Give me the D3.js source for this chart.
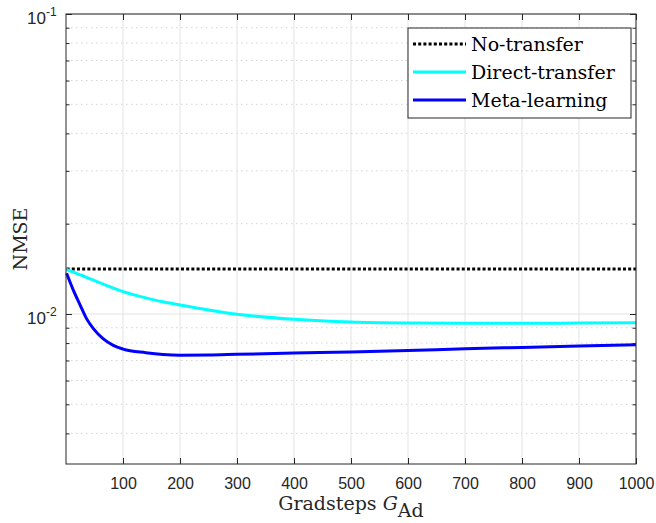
<!DOCTYPE html>
<html>
<head>
<meta charset="utf-8">
<script src="https://cdn.jsdelivr.net/npm/d3@7/dist/d3.min.js"></script>
<style>
    body { margin: 0; background: #fff; }
</style>
</head>
<body>
<div class="chart"></div>
<script>
// data
let steps = [1, 13, 25, 36, 48, 65, 83, 100, 140, 170, 200, 250, 300, 400, 500, 600, 700, 800, 900, 1000]
let directTransfer = [0.01409, 0.01378, 0.0135, 0.01325, 0.01296, 0.01258, 0.0122, 0.01187, 0.01132, 0.01098, 0.01072, 0.01031, 0.00998, 0.0096, 0.0094, 0.00933, 0.00931, 0.00931, 0.00933, 0.00935]
let metaLearning = [0.01367, 0.01199, 0.01069, 0.00965, 0.00894, 0.00828, 0.00786, 0.00764, 0.00743, 0.00733, 0.00729, 0.0073, 0.00734, 0.00741, 0.00747, 0.00755, 0.00766, 0.00774, 0.00782, 0.0079]
let noTransferSteps = [1, 1000]
let noTransfer = [0.01413, 0.01413]

let xTicks = [100, 200, 300, 400, 500, 600, 700, 800, 900, 1000]
let yMajor = [0.01, 0.1]
let yMajorLabels = ['-2', '-1']
let yMinor = [0.004, 0.005, 0.006, 0.007, 0.008, 0.009, 0.02, 0.03, 0.04, 0.05, 0.06, 0.07, 0.08, 0.09]
let legendNames = ['No-transfer', 'Direct-transfer', 'Meta-learning']

let margin = {
    left: 66,
    right: 20,
    top: 14,
    bottom: 59
}

let width = 656 - margin.left - margin.right;
let height = 523 - margin.top - margin.bottom;

let axisColor = '#262626';

let svg = d3.select('.chart')
    .append('svg')
    .attr('width', 656)
    .attr('height', 523)
    .style('background', '#fff');

let g = svg.append('g')
    .attr('transform', 'translate(' + margin.left + ', ' + margin.top + ')');

//scales
let x = d3.scaleLinear()
    .domain([0, 1000])
    .range([0, width])

let y = d3.scaleLog()
    .domain([Math.pow(10, -2.5), 0.1])
    .range([height, 0])

//grid
g.append('g')
    .selectAll('line')
    .data(yMinor)
    .join('line')
    .attr('x1', 0).attr('x2', width)
    .attr('y1', d => y(d)).attr('y2', d => y(d))
    .attr('stroke', '#d4d4d4')
    .attr('stroke-width', 1)
    .attr('stroke-dasharray', '1.5,3.5');

g.append('g')
    .selectAll('line')
    .data(xTicks)
    .join('line')
    .attr('x1', d => x(d)).attr('x2', d => x(d))
    .attr('y1', 0).attr('y2', height)
    .attr('stroke', '#e3e3e3')
    .attr('stroke-width', 1);

g.append('g')
    .selectAll('line')
    .data(yMajor)
    .join('line')
    .attr('x1', 0).attr('x2', width)
    .attr('y1', d => y(d)).attr('y2', d => y(d))
    .attr('stroke', '#e3e3e3')
    .attr('stroke-width', 1);

//lines
let line = d3.line()
    .x(item => x(item[0]))
    .y(item => y(item[1]))
    .curve(d3.curveMonotoneX)

g.append('path')
    .attr('fill', 'none')
    .attr('stroke', '#000')
    .attr('stroke-width', 3)
    .attr('stroke-dasharray', '3,2.2')
    .attr('d', line(d3.zip(noTransferSteps, noTransfer)));

g.append('path')
    .attr('fill', 'none')
    .attr('stroke', '#00ffff')
    .attr('stroke-width', 3)
    .attr('d', line(d3.zip(steps, directTransfer)));

g.append('path')
    .attr('fill', 'none')
    .attr('stroke', '#0000ff')
    .attr('stroke-width', 3)
    .attr('d', line(d3.zip(steps, metaLearning)));

//axes (ticks inside, box on)
let styleAxis = sel => {
    sel.select('.domain').remove();
    sel.selectAll('line').attr('stroke', axisColor);
    sel.selectAll('text')
        .attr('fill', axisColor)
        .style('font-family', '"Liberation Sans", Arial, sans-serif')
        .style('font-size', '16px');
}

let xAxis = d3.axisBottom(x).tickValues(xTicks).tickFormat(d3.format('d')).tickSizeInner(-6).tickSizeOuter(0).tickPadding(14);
g.append('g')
    .attr('transform', 'translate(0,' + height + ')')
    .call(xAxis)
    .call(styleAxis);

g.append('g')
    .call(d3.axisTop(x).tickValues(xTicks).tickSizeInner(-6).tickSizeOuter(0).tickFormat(''))
    .call(styleAxis);

let yAxis = d3.axisLeft(y).tickValues(yMajor).tickSizeInner(-6).tickSizeOuter(0).tickFormat('');
g.append('g').call(yAxis).call(styleAxis);
g.append('g').call(d3.axisLeft(y).tickValues(yMinor).tickSizeInner(-3.5).tickSizeOuter(0).tickFormat('')).call(styleAxis);
g.append('g')
    .attr('transform', 'translate(' + width + ',0)')
    .call(d3.axisRight(y).tickValues(yMajor).tickSizeInner(-6).tickSizeOuter(0).tickFormat(''))
    .call(styleAxis);
g.append('g')
    .attr('transform', 'translate(' + width + ',0)')
    .call(d3.axisRight(y).tickValues(yMinor).tickSizeInner(-3.5).tickSizeOuter(0).tickFormat(''))
    .call(styleAxis);

// y tick labels 10^n
let yLab = g.append('g')
    .selectAll('text')
    .data(yMajor)
    .join('text')
    .attr('x', -39)
    .attr('y', d => y(d) + 10)
    .attr('fill', axisColor)
    .style('font-family', '"Liberation Sans", Arial, sans-serif')
    .style('font-size', '17px');
yLab.append('tspan').text('10');
yLab.append('tspan')
    .attr('dy', -8)
    .style('font-size', '12px')
    .text((d, i) => yMajorLabels[i]);

//box
g.append('rect')
    .attr('width', width)
    .attr('height', height)
    .attr('fill', 'none')
    .attr('stroke', axisColor)
    .attr('stroke-width', 1);

//axis labels
let serif = '"DejaVu Serif", "Liberation Serif", serif';

let xLabel = svg.append('text')
    .attr('x', margin.left + width / 2)
    .attr('y', 510)
    .attr('text-anchor', 'middle')
    .attr('fill', axisColor)
    .style('font-family', serif)
    .style('font-size', '19px');
xLabel.append('tspan').text('Gradsteps ');
xLabel.append('tspan').style('font-style', 'italic').text('G');
xLabel.append('tspan').attr('dy', 7).text('Ad');

svg.append('text')
    .attr('transform', 'translate(27,' + (margin.top + height / 2) + ') rotate(-90)')
    .attr('text-anchor', 'middle')
    .attr('fill', axisColor)
    .style('font-family', serif)
    .style('font-size', '19px')
    .text('NMSE');

//legend
let legend = svg.append('g').attr('transform', 'translate(408,28)');
legend.append('rect')
    .attr('width', 223)
    .attr('height', 90)
    .attr('fill', '#fff')
    .attr('stroke', axisColor)
    .attr('stroke-width', 1);

let legendColors = ['#000', '#00ffff', '#0000ff'];
let legendDash = ['3,2.2', null, null];

let items = legend.selectAll('g.item')
    .data(legendNames)
    .join('g')
    .attr('class', 'item')
    .attr('transform', (d, i) => 'translate(0,' + (16 + i * 28) + ')');

items.append('line')
    .attr('x1', 5).attr('x2', 58)
    .attr('stroke', (d, i) => legendColors[i])
    .attr('stroke-width', 3)
    .attr('stroke-dasharray', (d, i) => legendDash[i]);

items.append('text')
    .attr('x', 63)
    .attr('dy', '0.35em')
    .attr('fill', '#000')
    .style('font-family', serif)
    .style('font-size', '19px')
    .text(d => d);
</script>
</body>
</html>
